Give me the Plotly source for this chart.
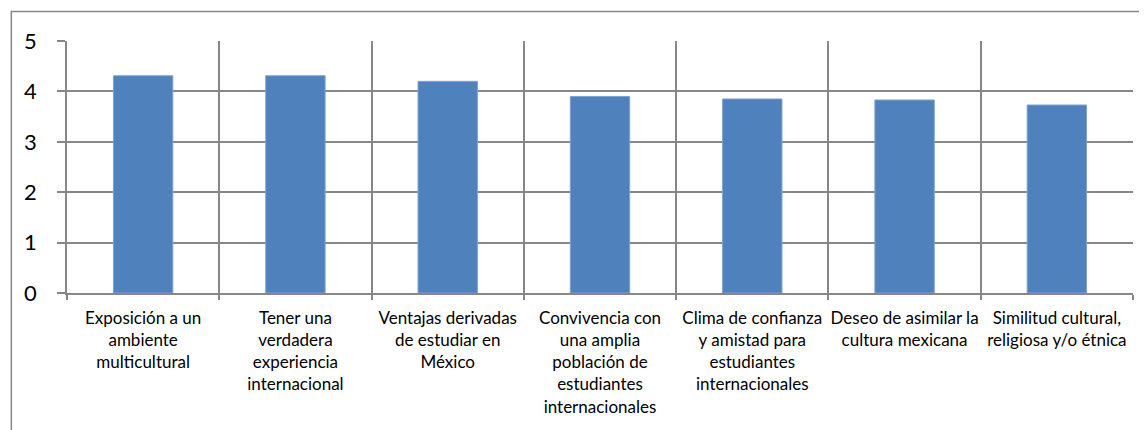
import plotly.graph_objects as go

categories = [
    "Exposición a un<br>ambiente<br>multicultural",
    "Tener una<br>verdadera<br>experiencia<br>internacional",
    "Ventajas derivadas<br>de estudiar en<br>México",
    "Convivencia con<br>una amplia<br>población de<br>estudiantes<br>internacionales",
    "Clima de confianza<br>y amistad para<br>estudiantes<br>internacionales",
    "Deseo de asimilar la<br>cultura mexicana",
    "Similitud cultural,<br>religiosa y/o étnica",
]
values = [4.31, 4.31, 4.20, 3.90, 3.85, 3.83, 3.73]
y_ticks = [0, 1, 2, 3, 4, 5]

# page body has an 8px default margin; compensate
OFF = 8
W, H = 1147 - OFF, 430 - OFF
L, R, T, B = 66.7 - OFF, 14, 40.5 - OFF, 430 - 292.7
pw, ph = W - L - R, H - T - B

fig = go.Figure(go.Bar(
    x=categories, y=values,
    marker=dict(color="#4F81BD", line=dict(color="#7FA3D0", width=1)),
    width=0.39,
))

grid = "#878787"
fig.update_layout(
    width=W, height=H,
    margin=dict(l=L, r=R, t=T, b=B, pad=0, autoexpand=False),
    paper_bgcolor="white", plot_bgcolor="white",
    showlegend=False,
    font=dict(family="Lato, Open Sans, sans-serif", color="#000000"),
    xaxis=dict(
        type="category", tickson="boundaries", automargin=False,
        showgrid=True, gridcolor=grid, gridwidth=1.5,
        showline=True, linecolor=grid, linewidth=1.5,
        ticks="outside", ticklen=5, tickcolor=grid, tickwidth=1.5,
        tickfont=dict(size=17, family="Lato, Open Sans, sans-serif"),
        ticklabelstandoff=9,
        tickangle=0,
        range=[-0.5, len(categories) - 0.5],
    ),
    yaxis=dict(
        range=[0, 5], tickvals=y_ticks, automargin=False,
        showgrid=True, gridcolor=grid, gridwidth=1.5,
        showline=True, linecolor=grid, linewidth=1.5,
        ticks="outside", ticklen=8, tickcolor=grid, tickwidth=1.5,
        tickfont=dict(size=22, family="Lato, Open Sans, sans-serif"),
        ticklabelstandoff=16,
        zeroline=False,
    ),
    shapes=[dict(
        type="rect", xref="paper", yref="paper",
        x0=(11 - OFF - L) / pw, x1=(W + 5 - L) / pw,
        y0=1 - (H + 5 - T) / ph, y1=1 + (T - (11 - OFF)) / ph,
        line=dict(color=grid, width=1.5), fillcolor="rgba(0,0,0,0)",
        layer="below",
    )],
)

fig.write_html("out.html")
